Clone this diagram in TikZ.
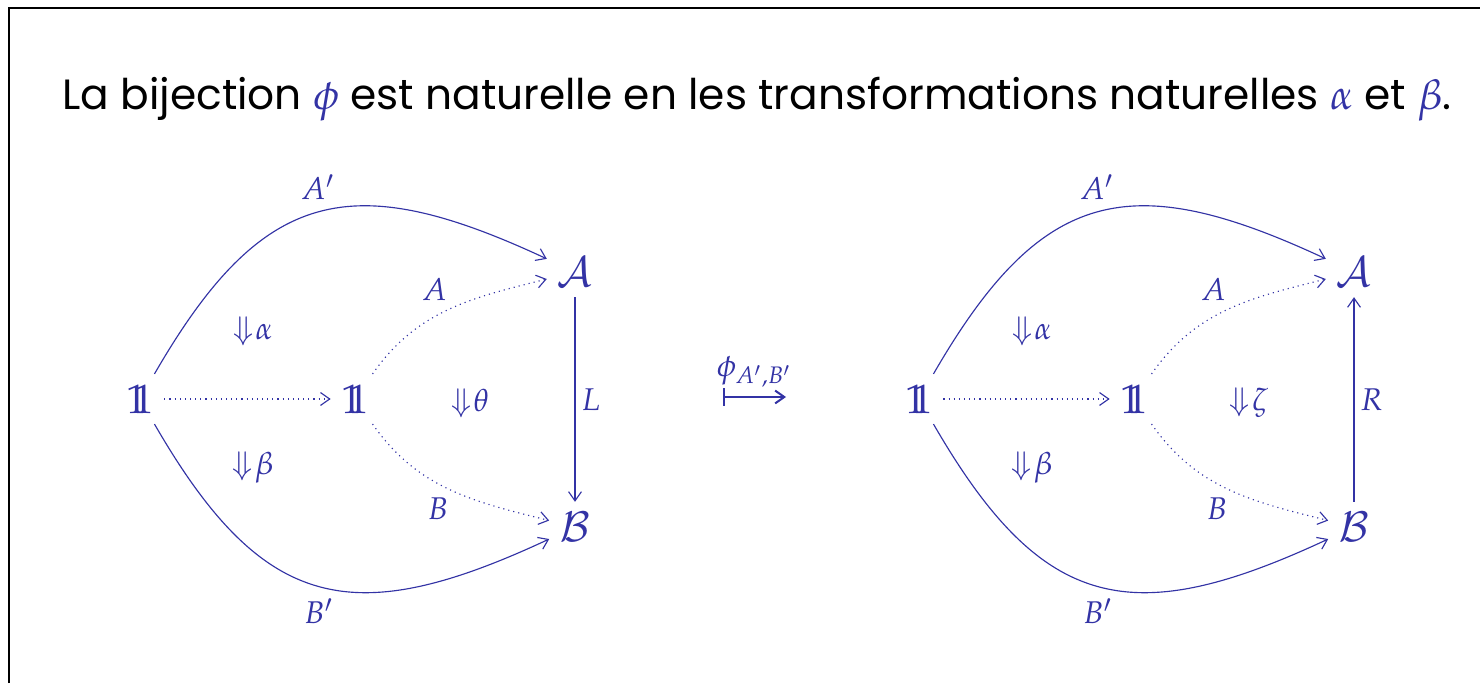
\documentclass[tikz,border=0pt]{standalone}
\usepackage{mathpazo}
\usepackage[no-math]{fontspec}
\newfontfamily\titlefont{Poppins}
\usetikzlibrary{arrows.meta}
\definecolor{struct}{RGB}{51,51,165}
\newcommand\unit{\mathrm{1\kern-0.33em1}}
\newcommand\cell[1]{\Downarrow\mkern-4mu#1}
\begin{document}
\begin{tikzpicture}[x=0.35pt,y=0.35pt,
  obj/.style={text=struct,font=\Large,inner sep=3.5pt},
  lbl/.style={text=struct,font=\fontsize{11}{13}\selectfont,inner sep=2pt},
  arr/.style={struct,-{Straight Barb[length=3.2pt,width=4.5pt]}},
  dot/.style={arr,dash pattern=on 0.4pt off 1.4pt},
  bow/.style={looseness=1.35}]
  \useasboundingbox (0,0) rectangle (1480,683);
  \draw[line width=0.7pt] (9,0) |- (1480,675);
  \node[anchor=base west,inner sep=0pt] (title) at (62,573)
    {\titlefont\fontsize{14.8}{17}\selectfont La bijection {\color{struct}$\phi$} est naturelle en les transformations naturelles {\color{struct}$\alpha$} et {\color{struct}$\beta$}.};
  % left diagram
  \node[obj] (u1) at (140,284) {$\unit$};
  \node[obj] (u2) at (355,284) {$\unit$};
  \node[obj] (cA) at (575,411) {$\mathcal{A}$};
  \node[obj] (cB) at (575,156) {$\mathcal{B}$};
  \node[lbl] (al) at (253,352) {$\cell\alpha$};
  \node[lbl] (be) at (253,216) {$\cell\beta$};
  \node[lbl] (th) at (470,280) {$\cell\theta$};
  \draw[arr,bow] (u1) to[out=60,in=155] node[lbl,pos=0.5,above=2pt] {$A'$} (cA);
  \draw[arr,bow] (u1) to[out=-60,in=-155] node[lbl,pos=0.5,below=2pt] {$B'$} (cB);
  \draw[dot] (u1) -- (u2);
  \draw[dot] (u2) to[out=55,in=194] node[lbl,pos=0.53,above left] {$A$} (cA);
  \draw[dot] (u2) to[out=-55,in=166] node[lbl,pos=0.53,below left] {$B$} (cB);
  \draw[arr] (cA) -- node[lbl,right] {$L$} (cB);
  % phi
  \coordinate (p1) at (723,286);
  \coordinate (p2) at (786,286);
  \draw[struct,line width=0.7pt,{Bar[width=6pt]}-{Straight Barb[length=3.2pt,width=4.5pt]}] (p1) -- node[lbl,above=1pt] {$\phi_{A',B'}$} (p2);
  % right diagram
  \node[obj] (v1) at (919,284) {$\unit$};
  \node[obj] (v2) at (1134,284) {$\unit$};
  \node[obj] (dA) at (1354,411) {$\mathcal{A}$};
  \node[obj] (dB) at (1354,156) {$\mathcal{B}$};
  \node[lbl] (al2) at (1032,352) {$\cell\alpha$};
  \node[lbl] (be2) at (1032,216) {$\cell\beta$};
  \node[lbl] (ze) at (1249,280) {$\cell\zeta$};
  \draw[arr,bow] (v1) to[out=60,in=155] node[lbl,pos=0.5,above=2pt] {$A'$} (dA);
  \draw[arr,bow] (v1) to[out=-60,in=-155] node[lbl,pos=0.5,below=2pt] {$B'$} (dB);
  \draw[dot] (v1) -- (v2);
  \draw[dot] (v2) to[out=55,in=194] node[lbl,pos=0.53,above left] {$A$} (dA);
  \draw[dot] (v2) to[out=-55,in=166] node[lbl,pos=0.53,below left] {$B$} (dB);
  \draw[arr] (dB) -- node[lbl,right] {$R$} (dA);
\end{tikzpicture}
\end{document}
